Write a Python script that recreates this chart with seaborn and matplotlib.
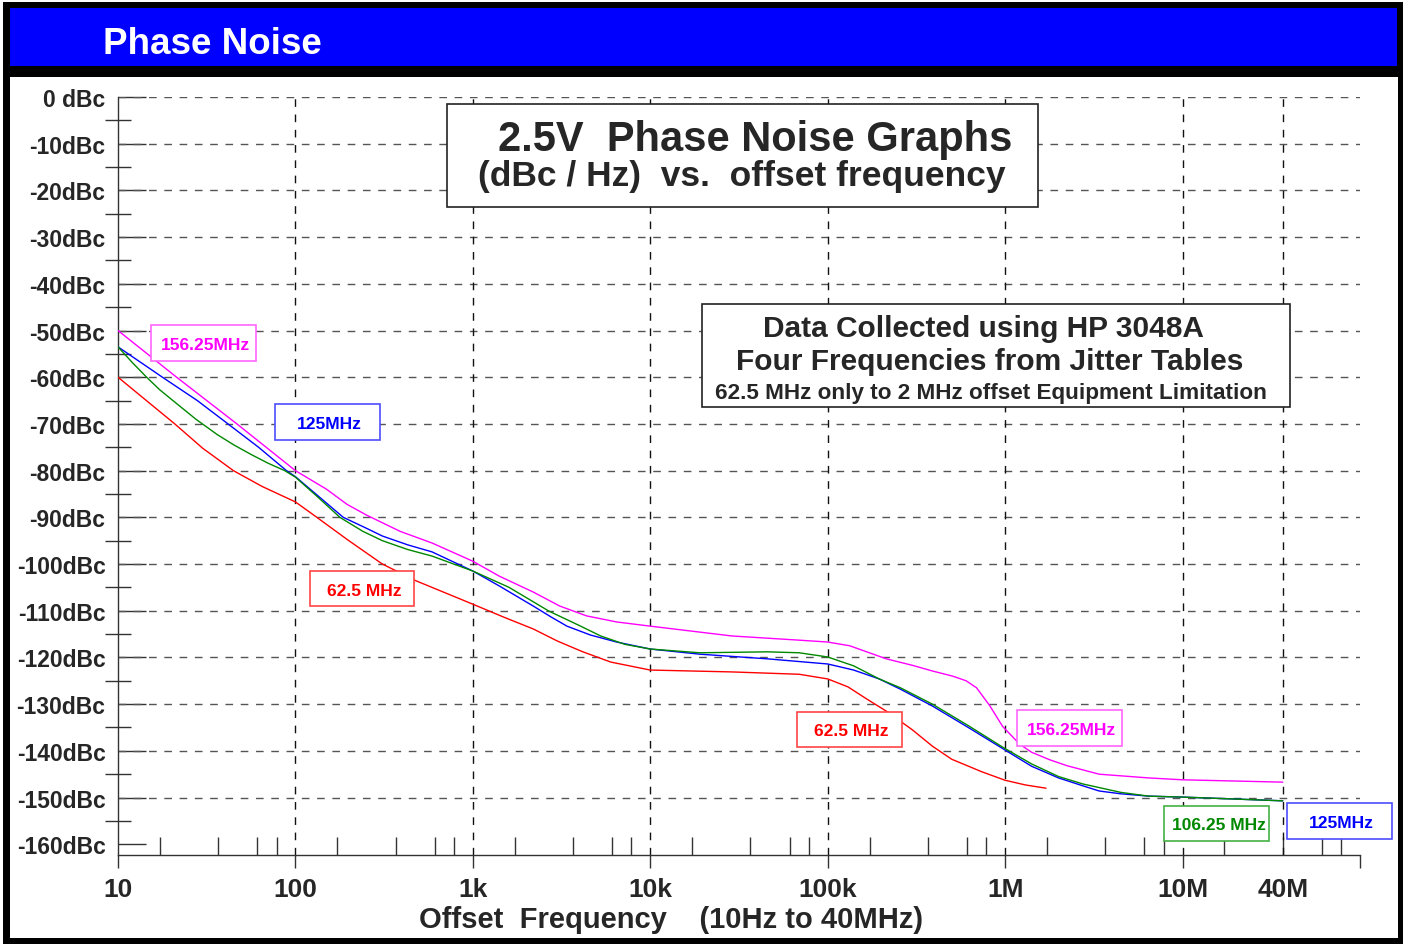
import numpy as np
import pandas as pd
import seaborn as sns
import matplotlib.pyplot as plt
from matplotlib.patches import Rectangle
from matplotlib.ticker import FixedLocator, NullFormatter

# --- data (offset frequency in Hz, phase noise in dBc/Hz) ---
f_156 = [10, 21.4, 46.8, 100, 150, 195, 251, 389, 589, 1000, 1410, 2190, 3090, 4370, 6460, 1e4,
         2.88e4, 6.9e4, 1e5, 1.33e5, 2.14e5, 3.01e5, 3.89e5, 5.06e5, 6.03e5, 6.9e5, 8.18e5, 9.69e5,
         1.21e6, 1.41e6, 1.78e6, 2.24e6, 3.39e6, 6.46e6, 1e7, 3.67e7]
db_156 = [-50, -60, -70, -80, -84, -87.2, -89.5, -93, -95.5, -99.4, -102.6, -106, -109, -111.1, -112.4, -113.3,
          -115.4, -116.3, -116.7, -117.5, -120.3, -121.7, -122.9, -124, -125, -126.5, -130.3, -134.8,
          -138.6, -140.3, -141.9, -143.2, -145, -145.8, -146.2, -146.7]

f_125 = [10, 17.8, 28, 41.7, 62, 89, 100, 135, 186, 250, 309, 430, 589, 1000, 1410, 2190, 2750, 3390,
         4600, 6460, 1e4, 1.9e4, 4.57e4, 1e5, 1.4e5, 1.95e5, 2.57e5, 3.89e5, 6.2e5, 9.77e5, 1.41e6,
         2e6, 2.75e6, 3.39e6, 4.5e6, 6.46e6, 1e7, 3.67e7]
db_125 = [-53.5, -60, -65, -70, -75, -80, -81.3, -85.5, -90, -92.3, -94, -95.9, -97.4, -101.5, -104.7, -109,
          -111.3, -113.3, -115.2, -116.7, -118.2, -119.3, -120.3, -121.4, -122.7, -124.6, -126.8, -130.4,
          -135, -139.6, -143.3, -145.8, -147.5, -148.6, -149.2, -149.7, -149.9, -150.7]

f_106 = [10, 12, 14.5, 17.2, 20.4, 27.5, 36.3, 45, 56, 70, 87, 100, 135, 178, 240, 309, 430, 589, 1000,
         1600, 2690, 4000, 5250, 7200, 1e4, 1.9e4, 4.57e4, 6.9e4, 1e5, 1.4e5, 1.95e5, 2.57e5, 3.89e5,
         6.2e5, 9.77e5, 1.41e6, 2e6, 2.75e6, 4.5e6, 6.46e6, 1e7, 3.67e7]
db_106 = [-53.5, -56.8, -60, -62.7, -65, -69, -72.3, -74.5, -76.5, -78.4, -80, -81.4, -85.8, -90, -93, -95,
          -96.9, -98.3, -101.5, -105, -110.1, -113.2, -115.4, -117.2, -118.2, -119, -118.8, -119, -119.9,
          -121.8, -124.6, -126.5, -130, -134.6, -139.3, -142.8, -145.5, -147.1, -148.9, -149.7, -149.9, -150.7]

f_62 = [10, 15, 20.9, 30, 44.7, 65, 100, 132, 200, 309, 479, 1000, 1500, 2190, 3000, 4170, 6000, 1e4,
        2.88e4, 6.9e4, 1e5, 1.3e5, 1.66e5, 2.14e5, 3e5, 3.89e5, 5e5, 7.41e5, 1e6, 1.3e6, 1.7e6]
db_62 = [-60, -65.5, -70, -75.2, -80, -83.4, -86.7, -90, -95, -100, -103.6, -108.6, -111.4, -113.9, -116.5,
         -118.8, -121, -122.7, -123.1, -123.6, -124.6, -126.3, -128.9, -131.5, -135.5, -139, -141.8, -144.5,
         -146.3, -147.3, -148]

series = ["156.25MHz", "125MHz", "106.25 MHz", "62.5 MHz"]
colors = {"156.25MHz": "#ff00ff", "125MHz": "#0000ff", "106.25 MHz": "#008800", "62.5 MHz": "#ff0000"}

x_decades = [10, 100, 1e3, 1e4, 1e5, 1e6, 1e7, 1e8]
x_labels = ["10", "100", "1k", "10k", "100k", "1M", "10M", ""]
x_minor_steps = [1.72, 3.67, 6.1, 7.83]
x_40m = 3.67e7
y_major = list(range(-160, 1, 10))
y_labels = ["0 dBc" if v == 0 else f"{v}dBc" for v in y_major]

df = pd.concat([
    pd.DataFrame({"freq": f_156, "dbc": db_156, "osc": "156.25MHz"}),
    pd.DataFrame({"freq": f_125, "dbc": db_125, "osc": "125MHz"}),
    pd.DataFrame({"freq": f_106, "dbc": db_106, "osc": "106.25 MHz"}),
    pd.DataFrame({"freq": f_62, "dbc": db_62, "osc": "62.5 MHz"}),
])

sns.set_style("white")
plt.rcParams["font.family"] = ["Liberation Sans", "DejaVu Sans"]
plt.rcParams["font.weight"] = "bold"

W, H = 1403, 945
fig = plt.figure(figsize=(W / 100, H / 100), dpi=100)


def fx(x):
    return x / W


def fy(y):
    return 1 - y / H


def frect(x0, y0, x1, y1, **kw):
    r = Rectangle((fx(x0), fy(y1)), fx(x1) - fx(x0), fy(y0) - fy(y1), transform=fig.transFigure, **kw)
    fig.patches.append(r)
    return r


# frame and header
frect(3, 3, 1403, 78, facecolor="black", edgecolor="none", zorder=1)
frect(10, 9, 1397, 67, facecolor="#0000ff", edgecolor="none", zorder=2)
frect(3, 76, 10, 945, facecolor="black", edgecolor="none", zorder=1)
frect(1398, 76, 1403, 945, facecolor="black", edgecolor="none", zorder=1)
frect(3, 939, 1403, 945, facecolor="black", edgecolor="none", zorder=1)
fig.text(fx(103), fy(41), "Phase Noise", color="white", fontsize=26.5, fontweight="bold",
         ha="left", va="center_baseline", zorder=3)

ax = fig.add_axes([fx(118), fy(856), fx(1360) - fx(118), fy(98) - fy(856)])

sns.lineplot(data=df, x="freq", y="dbc", hue="osc", hue_order=series, palette=colors,
             estimator=None, sort=True, linewidth=1.0, legend=False, ax=ax, zorder=4)

ax.set_xscale("log")
ax.set_xlim(10, 1e8)
ax.set_ylim(-162.3, 0)
ax.set_xlabel("")
ax.set_ylabel("")

# grid (no dashed line at the bottom -160 level)
for v in y_major[1:]:
    ax.axhline(v, color="#555555", lw=1, ls=(0, (5.5, 5.5)), zorder=1)
for v in x_decades[1:-1] + [x_40m]:
    ax.axvline(v, color="#111111", lw=1, ls=(0, (5.5, 5.5)), zorder=1)

ax.set_xticks(x_decades, labels=x_labels)
minor = [s * d for d in x_decades[:-1] for s in x_minor_steps]
ax.xaxis.set_minor_locator(FixedLocator(minor))
ax.xaxis.set_minor_formatter(NullFormatter())
ax.set_yticks(y_major, labels=y_labels)
ax.yaxis.set_minor_locator(FixedLocator(list(range(-155, 0, 10))))

ax.tick_params(which="both", bottom=True, left=True, top=False, right=False)
ax.tick_params(axis="x", which="major", direction="out", length=9, width=1, color="#333333",
               pad=7, labelsize=19)
ax.tick_params(axis="x", which="minor", direction="in", length=13, width=1, color="#333333")
ax.tick_params(axis="y", which="major", direction="in", length=20, width=1, color="#333333",
               pad=9, labelsize=16.5)
ax.tick_params(axis="y", which="minor", direction="inout", length=19, width=1, color="#333333")
for lab in ax.get_xticklabels() + ax.get_yticklabels():
    lab.set_fontweight("bold")

for s in ["top", "right"]:
    ax.spines[s].set_visible(False)
for s in ["left", "bottom"]:
    ax.spines[s].set_color("#333333")
    ax.spines[s].set_linewidth(1)

ax.annotate("40M", xy=(x_40m, 0), xycoords=("data", "axes fraction"), xytext=(0, -16),
            textcoords="offset points", ha="center", va="top", fontsize=19, fontweight="bold")

fig.text(fx(671), fy(917), "Offset  Frequency    (10Hz to 40MHz)", fontsize=21, fontweight="bold",
         ha="center", va="center_baseline", zorder=3)

# title box
frect(447, 105, 1038, 208, facecolor="white", edgecolor="#222222", lw=1.2, zorder=5)
fig.text(fx(755), fy(136), "2.5V  Phase Noise Graphs", fontsize=30, fontweight="bold",
         ha="center", va="center_baseline", zorder=6)
fig.text(fx(742), fy(173), "(dBc / Hz)  vs.  offset frequency", fontsize=25.5, fontweight="bold",
         ha="center", va="center_baseline", zorder=6)

# info box
frect(702, 305, 1290, 408, facecolor="white", edgecolor="#222222", lw=1.2, zorder=5)
fig.text(fx(984), fy(326), "Data Collected using HP 3048A", fontsize=21.5, fontweight="bold",
         ha="center", va="center_baseline", zorder=6)
fig.text(fx(990), fy(359), "Four Frequencies from Jitter Tables", fontsize=21.5, fontweight="bold",
         ha="center", va="center_baseline", zorder=6)
fig.text(fx(991), fy(391), "62.5 MHz only to 2 MHz offset Equipment Limitation", fontsize=16.2,
         fontweight="bold", ha="center", va="center_baseline", zorder=6)

# series tags
edge = {"156.25MHz": "#ff66ff", "125MHz": "#4d4dff", "106.25 MHz": "#44b044", "62.5 MHz": "#ff4444"}
tags = [
    ("156.25MHz", 151, 326, 256, 362),
    ("125MHz", 275, 405, 380, 441),
    ("62.5 MHz", 310, 572, 414, 607),
    ("62.5 MHz", 797, 713, 902, 748),
    ("156.25MHz", 1017, 711, 1122, 747),
    ("106.25 MHz", 1164, 807, 1269, 842),
    ("125MHz", 1287, 804, 1392, 840),
]
for name, x0, y0, x1, y1 in tags:
    frect(x0, y0, x1, y1, facecolor="white", edgecolor=edge[name], lw=1.2, zorder=5)
    fig.text(fx((x0 + x1) / 2 + 2), fy((y0 + y1) / 2), name, color=colors[name], fontsize=12.5,
             fontweight="bold", ha="center", va="center_baseline", zorder=6)

fig.savefig("out.png", dpi=100)
